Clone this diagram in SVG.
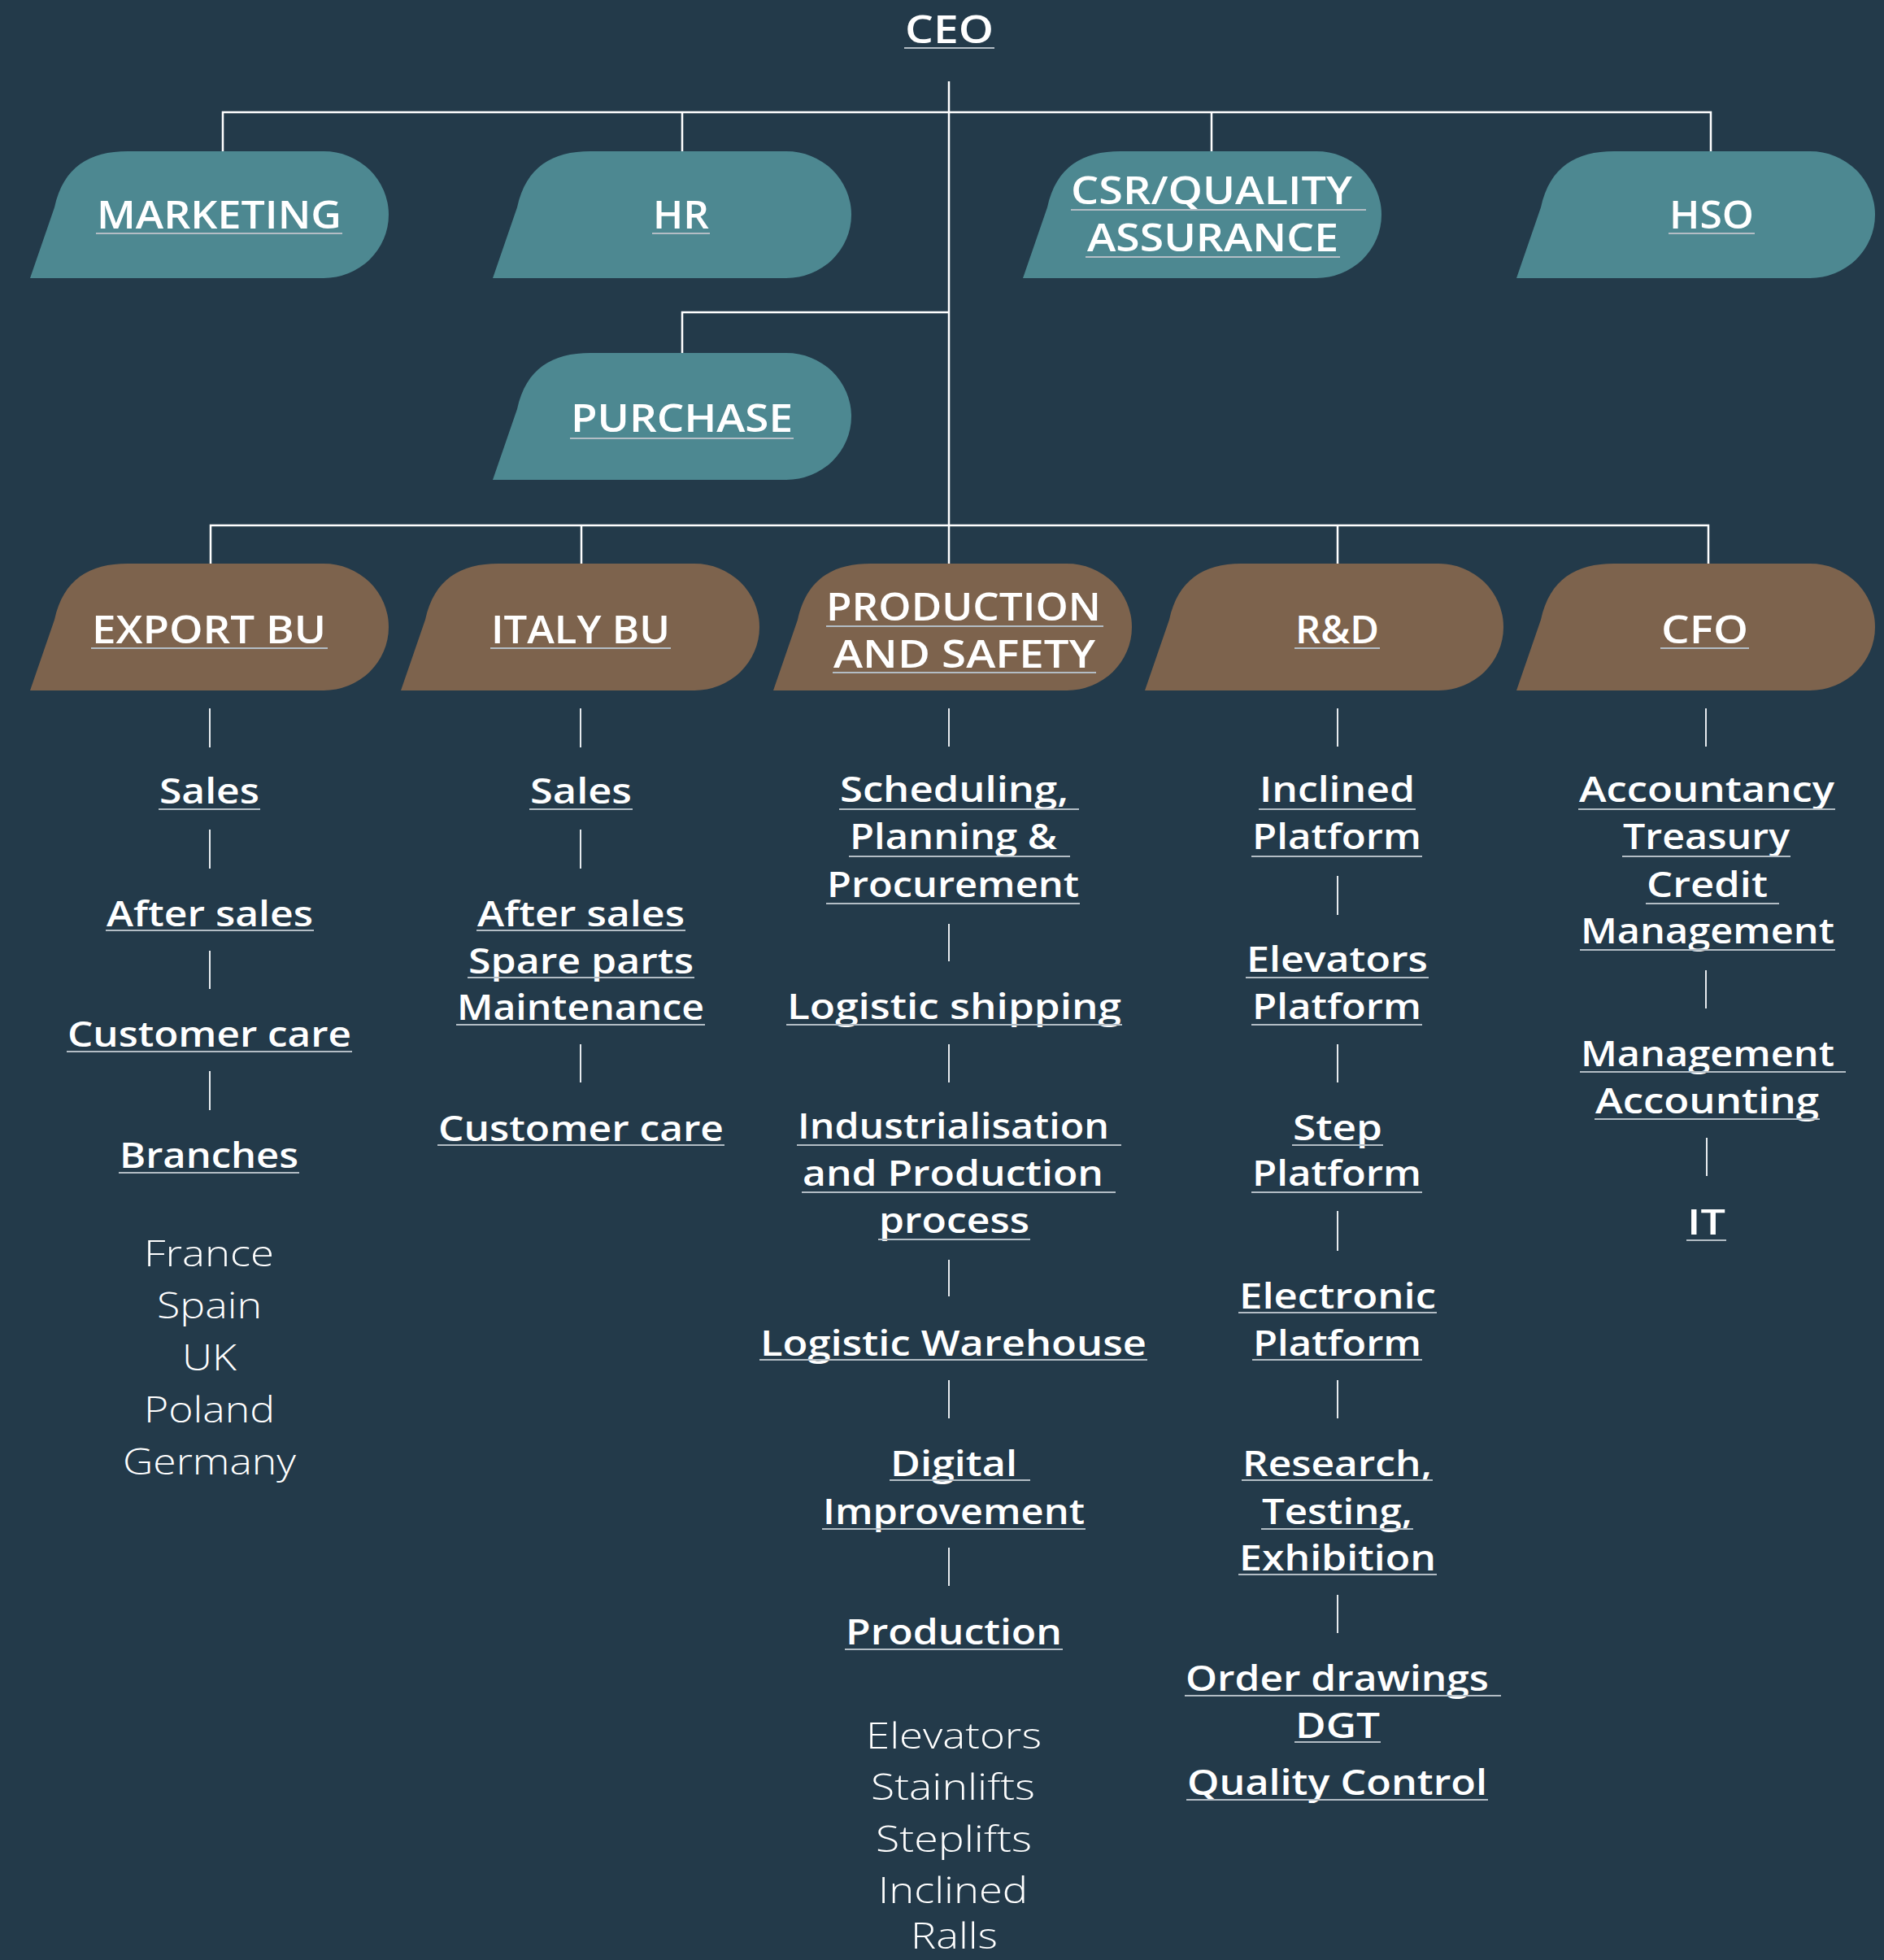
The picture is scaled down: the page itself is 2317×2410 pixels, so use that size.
<svg xmlns="http://www.w3.org/2000/svg" width="2317" height="2410" viewBox="0 0 2317 2410">
<style>
.bg{fill:#233a4a}
.teal{fill:#4d8891}
.brown{fill:#7d634d}
text{font-family:"Open Sans","Liberation Sans",sans-serif;fill:#ffffff}
.lbl{font-size:47px;font-weight:600}
.sub{font-size:44px;font-weight:600}
.lt{font-size:44px;font-weight:300}
.ul{stroke:#b3bdc5;stroke-width:2}
.conn{stroke:#ffffff;stroke-width:2.5;fill:none}
.tick{stroke:#e6eaee;stroke-width:2}
</style>
<defs>
<path id="shape" d="M0,156 L30,69 C41,19 73,0 120,0 H361 A80 78 0 0 1 361 156 Z"/>
</defs>
<rect class="bg" x="0" y="0" width="2317" height="2410"/>

<g id="connectors">
<path class="conn" d="M1167,100 V693"/>
<path class="conn" d="M274,186 V138 H2104 V186"/>
<path class="conn" d="M839,138 V186"/>
<path class="conn" d="M1490,138 V186"/>
<path class="conn" d="M1167,384 H839 V434"/>
<path class="conn" d="M259,693 V646 H2101 V693"/>
<path class="conn" d="M715,646 V693"/>
<path class="conn" d="M1645,646 V693"/>
<g id="ticks">
<line class="tick" x1="258" y1="871" x2="258" y2="919"/>
<line class="tick" x1="258" y1="1020" x2="258" y2="1068"/>
<line class="tick" x1="258" y1="1169" x2="258" y2="1216"/>
<line class="tick" x1="258" y1="1317" x2="258" y2="1365"/>
<line class="tick" x1="714" y1="871" x2="714" y2="919"/>
<line class="tick" x1="714" y1="1020" x2="714" y2="1068"/>
<line class="tick" x1="714" y1="1284" x2="714" y2="1331"/>
<line class="tick" x1="1167" y1="871" x2="1167" y2="918"/>
<line class="tick" x1="1167" y1="1136" x2="1167" y2="1182"/>
<line class="tick" x1="1167" y1="1284" x2="1167" y2="1331"/>
<line class="tick" x1="1167" y1="1549" x2="1167" y2="1594"/>
<line class="tick" x1="1167" y1="1697" x2="1167" y2="1744"/>
<line class="tick" x1="1167" y1="1903" x2="1167" y2="1950"/>
<line class="tick" x1="1645" y1="871" x2="1645" y2="918"/>
<line class="tick" x1="1645" y1="1077" x2="1645" y2="1125"/>
<line class="tick" x1="1645" y1="1284" x2="1645" y2="1331"/>
<line class="tick" x1="1645" y1="1489" x2="1645" y2="1538"/>
<line class="tick" x1="1645" y1="1697" x2="1645" y2="1744"/>
<line class="tick" x1="1645" y1="1961" x2="1645" y2="2008"/>
<line class="tick" x1="2098" y1="871" x2="2098" y2="918"/>
<line class="tick" x1="2098" y1="1193" x2="2098" y2="1240"/>
<line class="tick" x1="2099" y1="1399" x2="2099" y2="1446"/>
</g>
</g>

<g id="ceo">
<text class="lbl" x="1113" y="53" textLength="109" lengthAdjust="spacingAndGlyphs">CEO</text>
<line class="ul" x1="1112" y1="59" x2="1223" y2="59"/>
</g>

<g id="marketing">
<use href="#shape" class="teal" x="37" y="186"/>
<text class="lbl" x="119" y="281" textLength="301" lengthAdjust="spacingAndGlyphs">MARKETING</text>
<line class="ul" x1="118" y1="287" x2="421" y2="287"/>
</g>
<g id="hr">
<use href="#shape" class="teal" x="606" y="186"/>
<text class="lbl" x="803" y="281" textLength="69" lengthAdjust="spacingAndGlyphs">HR</text>
<line class="ul" x1="802" y1="287" x2="873" y2="287"/>
</g>
<g id="csr">
<use href="#shape" class="teal" x="1258" y="186"/>
<text class="lbl" x="1317" y="251" textLength="346" lengthAdjust="spacingAndGlyphs">CSR/QUALITY</text>
<line class="ul" x1="1317" y1="258" x2="1680" y2="258"/>
<text class="lbl" x="1337" y="309" textLength="309" lengthAdjust="spacingAndGlyphs">ASSURANCE</text>
<line class="ul" x1="1335" y1="316" x2="1648" y2="316"/>
</g>
<g id="hso">
<use href="#shape" class="teal" x="1865" y="186"/>
<text class="lbl" x="2053" y="281" textLength="104" lengthAdjust="spacingAndGlyphs">HSO</text>
<line class="ul" x1="2052" y1="287" x2="2158" y2="287"/>
</g>
<g id="purchase">
<use href="#shape" class="teal" x="606" y="434"/>
<text class="lbl" x="702" y="531" textLength="273" lengthAdjust="spacingAndGlyphs">PURCHASE</text>
<line class="ul" x1="701" y1="539" x2="976" y2="539"/>
</g>

<g id="export-bu">
<use href="#shape" class="brown" x="37" y="693"/>
<text class="lbl" x="113" y="791" textLength="288" lengthAdjust="spacingAndGlyphs">EXPORT BU</text>
<line class="ul" x1="112" y1="797" x2="403" y2="797"/>
</g>
<g id="italy-bu">
<use href="#shape" class="brown" x="493" y="693"/>
<text class="lbl" x="604" y="791" textLength="220" lengthAdjust="spacingAndGlyphs">ITALY BU</text>
<line class="ul" x1="603" y1="797" x2="825" y2="797"/>
</g>
<g id="production-safety">
<use href="#shape" class="brown" x="951" y="693"/>
<text class="lbl" x="1016" y="763" textLength="338" lengthAdjust="spacingAndGlyphs">PRODUCTION</text>
<line class="ul" x1="1016" y1="770" x2="1357" y2="770"/>
<text class="lbl" x="1025" y="821" textLength="322" lengthAdjust="spacingAndGlyphs">AND SAFETY</text>
<line class="ul" x1="1024" y1="827" x2="1348" y2="827"/>
</g>
<g id="rd">
<use href="#shape" class="brown" x="1408" y="693"/>
<text class="lbl" x="1593" y="791" textLength="103" lengthAdjust="spacingAndGlyphs">R&amp;D</text>
<line class="ul" x1="1592" y1="797" x2="1697" y2="797"/>
</g>
<g id="cfo">
<use href="#shape" class="brown" x="1865" y="693"/>
<text class="lbl" x="2043" y="791" textLength="107" lengthAdjust="spacingAndGlyphs">CFO</text>
<line class="ul" x1="2042" y1="797" x2="2151" y2="797"/>
</g>

<g id="export-items">
<text class="sub" x="196" y="988" textLength="123" lengthAdjust="spacingAndGlyphs">Sales</text>
<line class="ul" x1="195" y1="995" x2="320" y2="995"/>
<text class="sub" x="131" y="1139" textLength="254" lengthAdjust="spacingAndGlyphs">After sales</text>
<line class="ul" x1="130" y1="1144" x2="386" y2="1144"/>
<text class="sub" x="83" y="1287" textLength="349" lengthAdjust="spacingAndGlyphs">Customer care</text>
<line class="ul" x1="82" y1="1293" x2="433" y2="1293"/>
<text class="sub" x="147" y="1436" textLength="220" lengthAdjust="spacingAndGlyphs">Branches</text>
<line class="ul" x1="146" y1="1442" x2="368" y2="1442"/>
<text class="lt" x="177" y="1557" textLength="160" lengthAdjust="spacingAndGlyphs">France</text>
<text class="lt" x="193" y="1621" textLength="129" lengthAdjust="spacingAndGlyphs">Spain</text>
<text class="lt" x="224" y="1685" textLength="67" lengthAdjust="spacingAndGlyphs">UK</text>
<text class="lt" x="177" y="1749" textLength="161" lengthAdjust="spacingAndGlyphs">Poland</text>
<text class="lt" x="151" y="1813" textLength="213" lengthAdjust="spacingAndGlyphs">Germany</text>
</g>

<g id="italy-items">
<text class="sub" x="652" y="988" textLength="125" lengthAdjust="spacingAndGlyphs">Sales</text>
<line class="ul" x1="651" y1="995" x2="778" y2="995"/>
<text class="sub" x="587" y="1139" textLength="255" lengthAdjust="spacingAndGlyphs">After sales</text>
<line class="ul" x1="586" y1="1144" x2="843" y2="1144"/>
<text class="sub" x="576" y="1197" textLength="277" lengthAdjust="spacingAndGlyphs">Spare parts</text>
<line class="ul" x1="575" y1="1202" x2="854" y2="1202"/>
<text class="sub" x="562" y="1254" textLength="304" lengthAdjust="spacingAndGlyphs">Maintenance</text>
<line class="ul" x1="561" y1="1260" x2="867" y2="1260"/>
<text class="sub" x="539" y="1403" textLength="351" lengthAdjust="spacingAndGlyphs">Customer care</text>
<line class="ul" x1="538" y1="1408" x2="891" y2="1408"/>
</g>

<g id="production-items">
<text class="sub" x="1033" y="986" textLength="281" lengthAdjust="spacingAndGlyphs">Scheduling,</text>
<line class="ul" x1="1032" y1="995" x2="1327" y2="995"/>
<text class="sub" x="1045" y="1044" textLength="255" lengthAdjust="spacingAndGlyphs">Planning &amp;</text>
<line class="ul" x1="1044" y1="1053" x2="1316" y2="1053"/>
<text class="sub" x="1017" y="1103" textLength="310" lengthAdjust="spacingAndGlyphs">Procurement</text>
<line class="ul" x1="1016" y1="1111" x2="1328" y2="1111"/>
<text class="sub" x="968" y="1253" textLength="411" lengthAdjust="spacingAndGlyphs">Logistic shipping</text>
<line class="ul" x1="967" y1="1260" x2="1380" y2="1260"/>
<text class="sub" x="981" y="1400" textLength="383" lengthAdjust="spacingAndGlyphs">Industrialisation</text>
<line class="ul" x1="980" y1="1408" x2="1379" y2="1408"/>
<text class="sub" x="987" y="1458" textLength="370" lengthAdjust="spacingAndGlyphs">and Production</text>
<line class="ul" x1="986" y1="1466" x2="1372" y2="1466"/>
<text class="sub" x="1081" y="1516" textLength="185" lengthAdjust="spacingAndGlyphs">process</text>
<line class="ul" x1="1080" y1="1524" x2="1267" y2="1524"/>
<text class="sub" x="935" y="1667" textLength="475" lengthAdjust="spacingAndGlyphs">Logistic Warehouse</text>
<line class="ul" x1="934" y1="1672" x2="1411" y2="1672"/>
<text class="sub" x="1095" y="1815" textLength="156" lengthAdjust="spacingAndGlyphs">Digital</text>
<line class="ul" x1="1094" y1="1820" x2="1267" y2="1820"/>
<text class="sub" x="1012" y="1874" textLength="322" lengthAdjust="spacingAndGlyphs">Improvement</text>
<line class="ul" x1="1011" y1="1880" x2="1335" y2="1880"/>
<text class="sub" x="1040" y="2022" textLength="266" lengthAdjust="spacingAndGlyphs">Production</text>
<line class="ul" x1="1039" y1="2028" x2="1307" y2="2028"/>
<text class="lt" x="1065" y="2150" textLength="216" lengthAdjust="spacingAndGlyphs">Elevators</text>
<text class="lt" x="1071" y="2213" textLength="202" lengthAdjust="spacingAndGlyphs">Stainlifts</text>
<text class="lt" x="1077" y="2277" textLength="192" lengthAdjust="spacingAndGlyphs">Steplifts</text>
<text class="lt" x="1080" y="2340" textLength="184" lengthAdjust="spacingAndGlyphs">Inclined</text>
<text class="lt" x="1120" y="2396" textLength="107" lengthAdjust="spacingAndGlyphs">Ralls</text>
</g>

<g id="rd-items">
<text class="sub" x="1549" y="986" textLength="191" lengthAdjust="spacingAndGlyphs">Inclined</text>
<line class="ul" x1="1548" y1="995" x2="1741" y2="995"/>
<text class="sub" x="1540" y="1044" textLength="208" lengthAdjust="spacingAndGlyphs">Platform</text>
<line class="ul" x1="1539" y1="1053" x2="1749" y2="1053"/>
<text class="sub" x="1533" y="1195" textLength="223" lengthAdjust="spacingAndGlyphs">Elevators</text>
<line class="ul" x1="1532" y1="1202" x2="1757" y2="1202"/>
<text class="sub" x="1540" y="1253" textLength="208" lengthAdjust="spacingAndGlyphs">Platform</text>
<line class="ul" x1="1539" y1="1260" x2="1749" y2="1260"/>
<text class="sub" x="1590" y="1402" textLength="110" lengthAdjust="spacingAndGlyphs">Step</text>
<line class="ul" x1="1589" y1="1408" x2="1701" y2="1408"/>
<text class="sub" x="1540" y="1458" textLength="208" lengthAdjust="spacingAndGlyphs">Platform</text>
<line class="ul" x1="1539" y1="1466" x2="1749" y2="1466"/>
<text class="sub" x="1524" y="1609" textLength="242" lengthAdjust="spacingAndGlyphs">Electronic</text>
<line class="ul" x1="1523" y1="1614" x2="1767" y2="1614"/>
<text class="sub" x="1541" y="1667" textLength="207" lengthAdjust="spacingAndGlyphs">Platform</text>
<line class="ul" x1="1540" y1="1672" x2="1749" y2="1672"/>
<text class="sub" x="1528" y="1815" textLength="233" lengthAdjust="spacingAndGlyphs">Research,</text>
<line class="ul" x1="1527" y1="1820" x2="1762" y2="1820"/>
<text class="sub" x="1552" y="1874" textLength="185" lengthAdjust="spacingAndGlyphs">Testing,</text>
<line class="ul" x1="1551" y1="1880" x2="1738" y2="1880"/>
<text class="sub" x="1524" y="1931" textLength="242" lengthAdjust="spacingAndGlyphs">Exhibition</text>
<line class="ul" x1="1523" y1="1936" x2="1767" y2="1936"/>
<text class="sub" x="1458" y="2079" textLength="373" lengthAdjust="spacingAndGlyphs">Order drawings</text>
<line class="ul" x1="1457" y1="2085" x2="1846" y2="2085"/>
<text class="sub" x="1593" y="2137" textLength="104" lengthAdjust="spacingAndGlyphs">DGT</text>
<line class="ul" x1="1592" y1="2142" x2="1698" y2="2142"/>
<text class="sub" x="1460" y="2207" textLength="369" lengthAdjust="spacingAndGlyphs">Quality Control</text>
<line class="ul" x1="1459" y1="2213" x2="1830" y2="2213"/>
</g>

<g id="cfo-items">
<text class="sub" x="1942" y="986" textLength="314" lengthAdjust="spacingAndGlyphs">Accountancy</text>
<line class="ul" x1="1941" y1="995" x2="2257" y2="995"/>
<text class="sub" x="1996" y="1044" textLength="205" lengthAdjust="spacingAndGlyphs">Treasury</text>
<line class="ul" x1="1995" y1="1053" x2="2202" y2="1053"/>
<text class="sub" x="2025" y="1103" textLength="149" lengthAdjust="spacingAndGlyphs">Credit</text>
<line class="ul" x1="2024" y1="1111" x2="2188" y2="1111"/>
<text class="sub" x="1944" y="1160" textLength="312" lengthAdjust="spacingAndGlyphs">Management</text>
<line class="ul" x1="1943" y1="1168" x2="2257" y2="1168"/>
<text class="sub" x="1944" y="1311" textLength="312" lengthAdjust="spacingAndGlyphs">Management</text>
<line class="ul" x1="1943" y1="1318" x2="2270" y2="1318"/>
<text class="sub" x="1962" y="1369" textLength="275" lengthAdjust="spacingAndGlyphs">Accounting</text>
<line class="ul" x1="1961" y1="1376" x2="2238" y2="1376"/>
<text class="sub" x="2075" y="1518" textLength="47" lengthAdjust="spacingAndGlyphs">IT</text>
<line class="ul" x1="2074" y1="1525" x2="2123" y2="1525"/>
</g>
</svg>
